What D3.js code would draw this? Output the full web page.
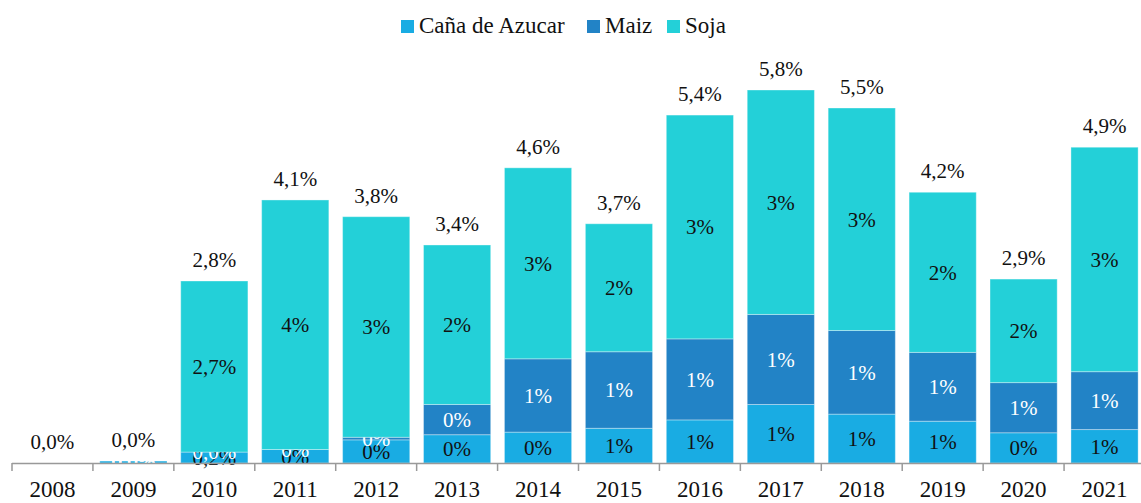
<!DOCTYPE html>
<html>
<head>
<meta charset="utf-8">
<script src="https://cdn.jsdelivr.net/npm/d3@7"></script>
</head>
<body style="margin:0">
<script>
// DATA (percent)
const years = ["2008","2009","2010","2011","2012","2013","2014","2015","2016","2017","2018","2019","2020","2021"];
const cana  = [0, 0.03, 0.17, 0.21, 0.36, 0.44, 0.48, 0.54, 0.67, 0.91, 0.76, 0.65, 0.47, 0.52];
const maiz  = [0, 0,    0,    0,    0.04, 0.47, 1.14, 1.19, 1.26, 1.40, 1.30, 1.07, 0.78, 0.90];
const soja  = [0, 0,    2.66, 3.88, 3.43, 2.48, 2.97, 1.99, 3.48, 3.49, 3.46, 2.49, 1.61, 3.49];
// decimals shown in segment labels, per year
const segDecimals = [1, 1, 1, 0, 0, 0, 0, 0, 0, 0, 0, 0, 0, 0];
const seriesNames = ["Caña de Azucar", "Maiz", "Soja"];
const seriesColors = ["#19ace3", "#2283c6", "#23d0d8"];
const labelColors = ["#111", "#fff", "#111"];

const FONT = '"Liberation Serif"';

// Draw chart
const width = 1141, height = 503;
const base = 463;

const rows = years.map((y, i) => ({year: y, cana: cana[i], maiz: maiz[i], soja: soja[i], dec: segDecimals[i]}));
const keys = ["cana", "maiz", "soja"];

const svg = d3.select('body').append('svg')
  .attr('width', width)
  .attr('height', height);

const x = d3.scaleBand()
  .domain(years)
  .range([12, 1145])
  .paddingInner(0.17)
  .paddingOuter(0.085);

const y = d3.scaleLinear()
  .domain([0, 5.8])
  .range([base, 90]);

const stacked = d3.stack().keys(keys)(rows);
const fmt = d => d3.format('.' + d + 'f');
const comma = s => s.replace('.', ',');

// bars
const layers = svg.append('g').selectAll('g')
  .data(stacked).enter().append('g')
  .attr('fill', (d, i) => seriesColors[i]);

layers.selectAll('rect')
  .data(d => d).enter().append('rect')
  .attr('x', d => x(d.data.year))
  .attr('width', x.bandwidth())
  .attr('y', d => y(d[1]))
  .attr('height', d => y(d[0]) - y(d[1]))
  .attr('stroke', 'rgba(255,255,255,0.35)')
  .attr('stroke-width', 1);

// axis line + boundary ticks
const axis = svg.append('g');
axis.append('line')
  .attr('x1', 12).attr('x2', width)
  .attr('y1', base + 0.5).attr('y2', base + 0.5)
  .attr('stroke', '#999').attr('stroke-width', 1.5);
const bounds = years.map(yr => x(yr) + x.bandwidth() / 2 - x.step() / 2);
axis.selectAll('.tk').data(bounds).enter().append('line')
  .attr('x1', d => d).attr('x2', d => d)
  .attr('y1', base).attr('y2', base + 8)
  .attr('stroke', '#999').attr('stroke-width', 1.5);

const xAxis = svg.append('g')
  .attr('transform', `translate(0,${base + 8})`)
  .call(d3.axisBottom(x).tickSize(0).tickPadding(10));
xAxis.select('.domain').remove();
xAxis.attr('font-family', null).attr('font-size', null);
xAxis.selectAll('text')
  .attr('fill', '#111')
  .style('font-family', FONT)
  .style('font-size', '23px');

// segment labels (near-zero values are printed in white)
layers.each(function(layer, li){
  d3.select(this).selectAll('text')
    .data(layer).enter().append('text')
    .attr('x', d => x(d.data.year) + x.bandwidth() / 2)
    .attr('y', d => (y(d[0]) + y(d[1])) / 2)
    .attr('dy', '0.35em')
    .attr('text-anchor', 'middle')
    .attr('fill', d => (d[1] - d[0]) < 0.05 ? '#fff' : labelColors[li])
    .style('font-family', FONT)
    .style('font-size', '21px')
    .text(d => comma(fmt(d.data.dec)(d[1] - d[0])) + '%');
});

// totals
svg.append('g').selectAll('text')
  .data(rows).enter().append('text')
  .attr('x', d => x(d.year) + x.bandwidth() / 2)
  .attr('y', d => y(d.cana + d.maiz + d.soja) - 14)
  .attr('text-anchor', 'middle')
  .attr('fill', '#111')
  .style('font-family', FONT)
  .style('font-size', '21px')
  .text(d => comma(d3.format('.1f')(d.cana + d.maiz + d.soja)) + '%');

// legend
const legendX = [401, 587, 667];
const legend = svg.append('g').selectAll('g')
  .data(seriesNames).enter().append('g')
  .attr('transform', (d, i) => `translate(${legendX[i]},20)`);
legend.append('rect')
  .attr('width', 13).attr('height', 13)
  .attr('fill', (d, i) => seriesColors[i]);
legend.append('text')
  .attr('x', 18).attr('y', 13)
  .attr('fill', '#111')
  .style('font-family', FONT)
  .style('font-size', '23px')
  .text(d => d);
</script>
</body>
</html>
